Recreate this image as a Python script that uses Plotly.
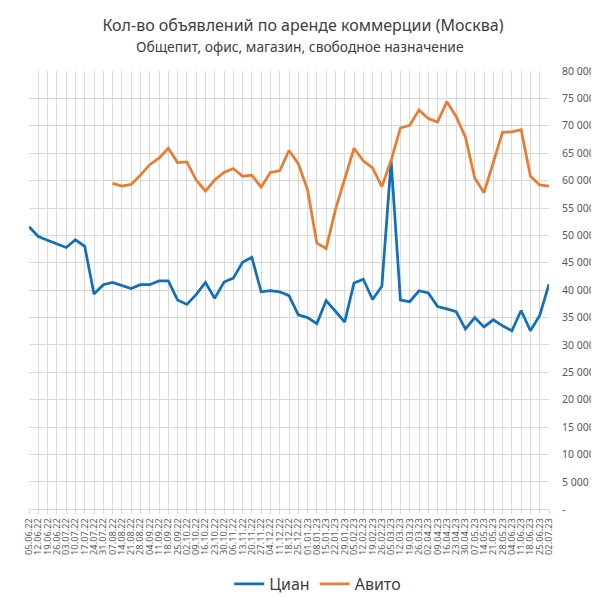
import plotly.graph_objects as go

# weekly dates
dates = [
    "05.06.22", "12.06.22", "19.06.22", "26.06.22", "03.07.22", "10.07.22", "17.07.22", "24.07.22",
    "31.07.22", "07.08.22", "14.08.22", "21.08.22", "28.08.22", "04.09.22", "11.09.22", "18.09.22",
    "25.09.22", "02.10.22", "09.10.22", "16.10.22", "23.10.22", "30.10.22", "06.11.22", "13.11.22",
    "20.11.22", "27.11.22", "04.12.22", "11.12.22", "18.12.22", "25.12.22", "01.01.23", "08.01.23",
    "15.01.23", "22.01.23", "29.01.23", "05.02.23", "12.02.23", "19.02.23", "26.02.23", "05.03.23",
    "12.03.23", "19.03.23", "26.03.23", "02.04.23", "09.04.23", "16.04.23", "23.04.23", "30.04.23",
    "07.05.23", "14.05.23", "21.05.23", "28.05.23", "04.06.23", "11.06.23", "18.06.23", "25.06.23",
    "02.07.23",
]

cian = [
    51600, 49800, 49100, 48500, 47800, 49200, 48000, 39300, 41000, 41400,
    40800, 40300, 41000, 41000, 41700, 41700, 38200, 37400, 39200, 41400,
    38500, 41500, 42200, 45100, 46000, 39700, 39900, 39700, 39000, 35500,
    35000, 33900, 38100, 36200, 34200, 41300, 42000, 38300, 40700, 63600,
    38200, 37900, 39900, 39500, 37000, 36600, 36100, 32900, 35000, 33300,
    34600, 33500, 32600, 36300, 32600, 35400, 41100,
]

avito = [
    None, None, None, None, None, None, None, None, None, 59500,
    59000, 59300, 61000, 62900, 64100, 65900, 63300, 63400, 60100, 58100,
    60100, 61500, 62200, 60800, 61000, 58800, 61500, 61800, 65500, 63100,
    58300, 48600, 47600, 54700, 60100, 65900, 63600, 62300, 58900, 63700,
    69600, 70100, 72900, 71300, 70700, 74400, 71700, 67900, 60500, 57800,
    63300, 68800, 68900, 69300, 60800, 59200, 59000,
]

y_ticks = list(range(0, 80001, 5000))
y_labels = ["-"] + [f"{v:,}".replace(",", " ") for v in y_ticks[1:]]

font = "Noto Sans"
grey = "#D9D9D9"

fig = go.Figure()
fig.add_trace(go.Scatter(
    x=list(range(len(dates))), y=cian, name="Циан", mode="lines",
    line=dict(color="#1170BA", width=2.75),
))
fig.add_trace(go.Scatter(
    x=list(range(len(dates))), y=avito, name="Авито", mode="lines",
    line=dict(color="#E97C30", width=2.75),
))

fig.update_layout(
    width=599,
    height=597,
    margin=dict(l=21, r=52, t=63, b=85),
    plot_bgcolor="white",
    paper_bgcolor="white",
    font=dict(family=font, color="#595959"),
    title=dict(
        text="Кол-во объявлений по аренде коммерции (Москва)",
        x=0.4925, xref="container", xanchor="center",
        y=1 - 17 / 597, yref="container", yanchor="middle",
        font=dict(size=16, color="#404040"),
    ),
    annotations=[dict(
        text="Общепит, офис, магазин, свободное назначение",
        x=0.521, xref="paper", xanchor="center",
        y=1.0557, yref="paper", yanchor="middle",
        showarrow=False, font=dict(size=13.8, color="#404040"),
    )],
    legend=dict(
        orientation="h",
        x=0.517, xref="container", xanchor="center",
        y=1 - 576 / 597, yref="container", yanchor="middle",
        font=dict(size=16, color="#404040"),
    ),
    xaxis=dict(
        range=[0, len(dates) - 1],
        tickvals=list(range(len(dates))),
        ticktext=dates,
        tickangle=-90,
        tickfont=dict(size=9.3, color="#595959"),
        showgrid=True, gridcolor=grey, gridwidth=1,
        showline=True, linecolor=grey,
        ticks="outside", ticklen=4, tickcolor=grey,
        zeroline=False,
    ),
    yaxis=dict(
        range=[0, 80000],
        side="right",
        tickvals=y_ticks,
        ticktext=y_labels,
        tickfont=dict(size=10.5, color="#595959"),
        showgrid=True, gridcolor=grey, gridwidth=1,
        zeroline=False,
        ticklabelstandoff=12,
    ),
)

fig.write_html("out.html")
